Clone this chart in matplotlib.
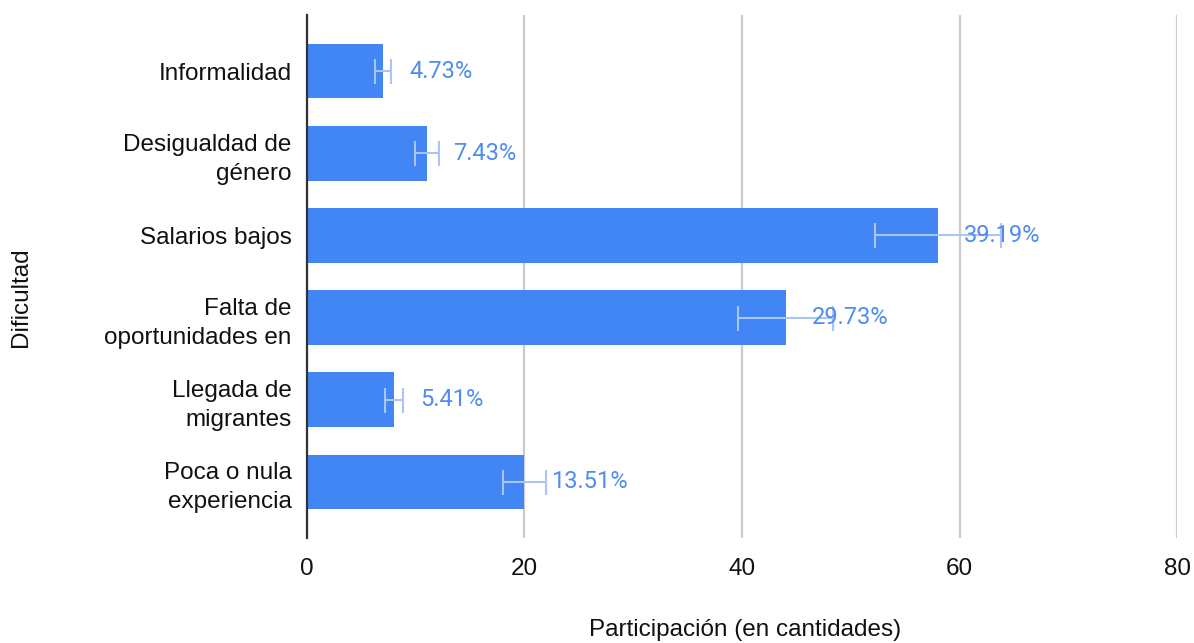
import numpy as np
import matplotlib.pyplot as plt

categorias = ["Informalidad", "Desigualdad de\ngénero", "Salarios bajos",
              "Falta de\noportunidades en", "Llegada de\nmigrantes", "Poca o nula\nexperiencia"]
cantidades = [7, 11, 58, 44, 8, 20]
etiquetas = ["4.73%", "7.43%", "39.19%", "29.73%", "5.41%", "13.51%"]
errores = [v * 0.10 for v in cantidades]

plt.rcParams['font.family'] = ['Liberation Sans', 'DejaVu Sans']

fig = plt.figure(figsize=(11.94, 6.43), dpi=100)
ax = fig.add_axes([0.257, 0.163, 0.729, 0.814])

y = np.arange(len(categorias))
ax.barh(y, cantidades, height=0.66, color='#4285f4', zorder=2)
ax.errorbar(cantidades, y, xerr=errores, fmt='none', ecolor='#a9c6f8',
            elinewidth=1.5, capsize=9, capthick=1.5, zorder=3)

for yi, v, t in zip(y, cantidades, etiquetas):
    ax.annotate(t, (v, yi), xytext=(19, 0), textcoords='offset points',
                va='center', ha='left', color='#4f8cf2', fontsize=17,
                family=['Roboto', 'DejaVu Sans'], zorder=4)

ax.set_xlim(0, 80)
ax.set_ylim(5.69, -0.69)
ax.set_xticks([0, 20, 40, 60, 80])
ax.set_yticks(y)
ax.set_yticklabels(categorias, fontsize=17.5, color='#111111', multialignment='right',
                   linespacing=1.4)
ax.tick_params(axis='x', labelsize=17.5, colors='#111111', length=0, pad=14)
ax.tick_params(axis='y', length=0, pad=11)
ax.grid(axis='x', color='#cccccc', linewidth=1.6, zorder=0)
ax.set_axisbelow(True)
for s in ['top', 'right', 'bottom']:
    ax.spines[s].set_visible(False)
ax.spines['left'].set_color('#333333')
ax.spines['left'].set_linewidth(1.6)
ax.spines['left'].set_zorder(5)

fig.text(0.624, 0.02, 'Participación (en cantidades)', fontsize=17.5, color='#111111',
         ha='center', va='center')
fig.text(0.018, 0.538, 'Dificultad', rotation=90, fontsize=17.5, color='#111111',
         va='center', ha='center')

fig.savefig('out.png', dpi=100)
